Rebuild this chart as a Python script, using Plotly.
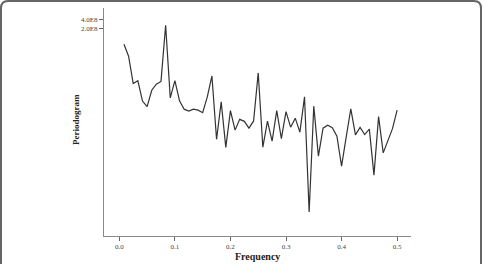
import plotly.graph_objects as go

# frequencies k/120, k=1..60
freq = [k / 120 for k in range(1, 61)]
periodogram = [
    6.70e7, 2.84e7, 4.03e6, 4.92e6, 1.15e6, 7.67e5, 2.49e6, 3.83e6, 4.68e6, 2.61e8,
    1.44e6, 4.92e6, 1.16e6, 6.41e5, 5.56e5, 6.41e5, 5.97e5, 4.99e5, 1.55e6, 6.93e6,
    7.40e4, 1.08e6, 4.15e4, 5.75e5, 1.43e5, 3.09e5, 2.68e5, 1.65e5, 2.76e5, 8.59e6,
    4.24e4, 2.72e5, 6.50e4, 5.75e5, 7.78e4, 5.36e5, 1.77e5, 3.37e5, 1.24e5, 1.55e6,
    406, 7.94e5, 2.22e4, 1.65e5, 2.04e5, 1.71e5, 9.29e4, 1.09e4, 8.65e4, 6.55e5,
    1.02e5, 1.73e5, 1.04e5, 1.53e5, 5.71e3, 3.75e5, 2.80e4, 6.98e4, 1.59e5, 5.97e5,
]
x_ticks = [0.0, 0.1, 0.2, 0.3, 0.4, 0.5]
x_ticklabels = ["0.0", "0.1", "0.2", "0.3", "0.4", "0.5"]
y_ticks = [2e8, 4e8]
y_ticklabels = ["2.0E8", "4.0E8"]

W, H = 484, 264
L, R, T, B = 104, 73, 8, 28
pw = W - L - R
ph = H - T - B

def px(x):
    return (x - L) / pw

def py(y):
    return (H - B - y) / ph

fig = go.Figure()
fig.add_trace(go.Scatter(
    x=freq, y=periodogram, mode="lines",
    line=dict(color="#333333", width=1.2),
    showlegend=False, hoverinfo="skip",
))

serif = "Liberation Serif, Times New Roman, serif"

fig.update_layout(
    width=W, height=H,
    margin=dict(l=L, r=R, t=T, b=B),
    paper_bgcolor="white", plot_bgcolor="white",
    font=dict(family=serif, color="#444444"),
    xaxis=dict(
        range=[-0.0276, 0.525], tickvals=x_ticks, ticktext=x_ticklabels,
        showgrid=False, zeroline=False, showline=True, linecolor="#888888", linewidth=1,
        ticks="outside", ticklen=4, tickcolor="#666666",
        tickfont=dict(size=7, family=serif, color="#444444"),
    ),
    yaxis=dict(
        type="log", range=[1.863, 8.953], tickvals=y_ticks, ticktext=y_ticklabels,
        showgrid=False, zeroline=False, showline=True, linecolor="#888888", linewidth=1,
        ticks="outside", ticklen=4, tickcolor="#666666",
        tickfont=dict(size=7, family=serif, color="#444444"),
    ),
)

fig.add_annotation(
    xref="paper", yref="paper", x=px(257), y=py(256), text="<b>Frequency</b>",
    showarrow=False, font=dict(size=10, family=serif, color="#222222"),
    xanchor="center", yanchor="middle",
)
fig.add_annotation(
    xref="paper", yref="paper", x=px(76), y=py(120), text="<b>Periodogram</b>",
    showarrow=False, textangle=-90, font=dict(size=9, family=serif, color="#222222"),
    xanchor="center", yanchor="middle",
)

# rounded frame around the figure
x0, x1 = px(1), px(481)
y0, y1 = py(1), py(280)
rx, ry = 7 / pw, 7 / ph
path = (
    f"M {x0},{y1} L {x0},{y0 - ry} Q {x0},{y0} {x0 + rx},{y0} "
    f"L {x1 - rx},{y0} Q {x1},{y0} {x1},{y0 - ry} L {x1},{y1}"
)
fig.add_shape(type="path", xref="paper", yref="paper", path=path,
              line=dict(color="#666666", width=2))

fig.write_html("out.html")
